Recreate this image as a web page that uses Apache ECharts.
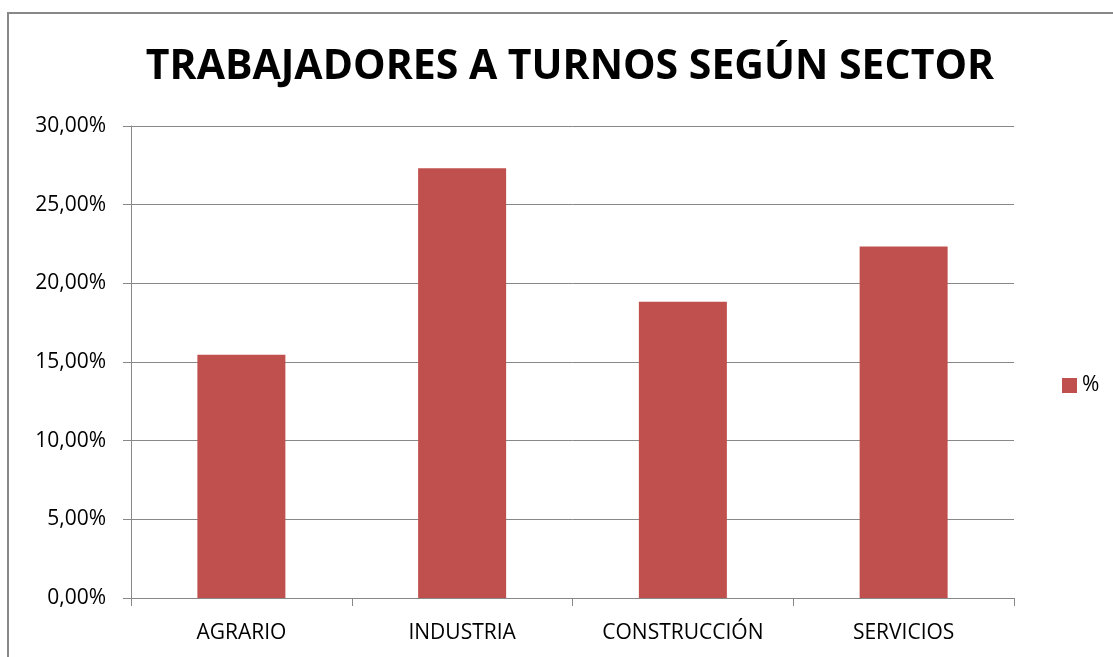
<!DOCTYPE html>
<html>
<head>
<meta charset="utf-8">
<script src="https://cdn.jsdelivr.net/npm/echarts@6/dist/echarts.min.js"></script>
<style>
  html, body { margin: 0; padding: 0; background: #fff; }
  #chart { width: 1113px; height: 657px; }
</style>
</head>
<body>
<div id="chart"></div>
<script>
const sectors = ['AGRARIO', 'INDUSTRIA', 'CONSTRUCCIÓN', 'SERVICIOS'];
const percentages = [15.46, 27.32, 18.83, 22.34];
const seriesName = '%';

const chart = echarts.init(document.getElementById('chart'));
const fmt = v => v.toFixed(2).replace('.', ',') + '%';

chart.setOption({
  animation: false,
  title: {
    text: 'TRABAJADORES A TURNOS SEGÚN SECTOR',
    left: 565, top: 42, textAlign: 'center',
    textStyle: { fontFamily: 'Open Sans', fontWeight: 'bold', fontSize: 41, color: '#000' }
  },
  legend: {
    data: [seriesName], left: 1057, top: 370, itemWidth: 15, itemHeight: 15, itemGap: 6,
    icon: 'rect',
    textStyle: { fontFamily: 'Open Sans', fontSize: 21, color: '#000' }
  },
  grid: { left: 131, right: 99, top: 126, bottom: 59 },
  xAxis: {
    type: 'category', data: sectors,
    axisLine: { lineStyle: { color: '#888' } },
    axisTick: { show: true, length: 8, lineStyle: { color: '#888' } },
    axisLabel: { fontFamily: 'Open Sans', fontSize: 21, color: '#000', margin: 25 }
  },
  yAxis: {
    type: 'value', min: 0, max: 30, interval: 5,
    axisLine: { show: true, lineStyle: { color: '#888' } },
    axisTick: { show: true, length: 8, lineStyle: { color: '#888' } },
    splitLine: { lineStyle: { color: '#888' } },
    axisLabel: { formatter: fmt, fontFamily: 'Open Sans', fontSize: 21, color: '#000', margin: 25 }
  },
  series: [{
    name: seriesName, type: 'bar', data: percentages, barWidth: 88,
    itemStyle: { color: '#C0504D' }
  }],
  graphic: [{
    type: 'rect', shape: { x: 8, y: 13, width: 1120, height: 660 },
    style: { fill: 'none', stroke: '#888', lineWidth: 2 }, z: 100
  }]
});
</script>
</body>
</html>
